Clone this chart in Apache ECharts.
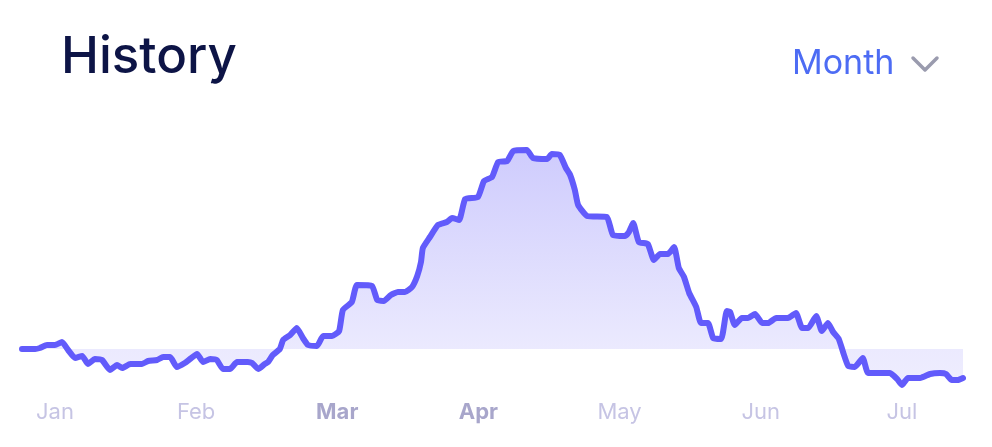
<!DOCTYPE html>
<html><head><meta charset="utf-8">
<script src="https://cdn.jsdelivr.net/npm/echarts@6/dist/echarts.min.js"></script>
<style>html,body{margin:0;padding:0;background:#fff}#c{width:992px;height:447px}</style>
</head><body><div id="c"></div>
<script>
// x: day index (0..200), y: value relative to baseline 0
const days = [0,2.8,3.8,5.3,7.0,8.5,9.8,11.3,12.8,14.0,15.5,17.0,18.7,20.2,21.3,23.0,25.5,26.8,28.7,30.0,31.5,32.9,34.6,35.7,37.2,38.5,40.0,41.4,42.7,44.2,45.7,48.0,48.9,50.2,51.6,52.3,53.3,54.8,55.5,57.0,58.4,59.7,60.8,62.7,64.0,65.9,67.4,68.2,70.1,71.2,74.4,75.5,76.9,78.4,79.9,81.4,82.9,84.0,84.8,85.2,86.7,88.4,90.3,91.4,92.9,94.2,96.9,98.2,99.9,101.2,103.1,104.4,107.3,108.6,111.6,112.6,114.3,115.6,116.5,117.5,118.2,120.1,124.3,125.6,128.2,129.0,129.9,131.1,133.0,134.3,135.6,137.3,138.6,139.6,140.7,141.8,143.3,144.3,145.8,146.9,148.6,149.8,150.5,151.5,153.0,154.3,155.8,157.3,158.6,160.3,162.8,164.5,165.8,167.1,168.8,170.0,171.3,172.4,173.6,174.5,175.6,177.0,178.7,179.8,181.7,184.5,186.0,187.0,188.3,190.9,193.0,195.1,196.4,197.6,198.9,200.0];
const values = [0,0,0.5,2,2,3.5,-0.5,-4.5,-3.5,-7.5,-5,-5.5,-10.5,-8,-9.5,-7.5,-7.5,-6,-5.5,-4,-4,-9,-7,-5,-2.5,-6.5,-5,-5.5,-10,-10,-6.5,-6.5,-7,-10,-7.5,-6.5,-3,0,4.5,7,10.5,5.5,2,1.5,6.5,6.5,9,19.5,23.5,32,31.5,24.5,24,27,28.5,28.5,31,36.5,43.5,50.5,56,62,63.5,65.5,64.5,75,76,84,86,93.5,94,99,99.5,95.5,95,97.5,97,90.5,87,79.5,72,66.5,66,57,56.5,58.5,63,53.5,52.5,44.5,47.5,47.5,51,40.5,36,28,21,13,13,5.5,5,19,18.5,12,15.5,15.5,17.5,13,13,15.5,15.5,18,10.5,10.5,16.5,9,13,8.5,5,-1.5,-8.5,-9,-4.5,-12,-12,-12,-15,-18,-14.5,-14.5,-12.5,-12,-12.5,-15.5,-15.5,-14.5];
const monthLabels = ['Jan','Feb','Mar','Apr','May','Jun','Jul'];
const monthDays = [7,37,67,97,127,157,187];
const highlightedMonths = ['Mar','Apr'];
const titleText = 'History';
const periodText = 'Month';
const baselineValue = 0;

const FONT = 'Inter, "Noto Sans", sans-serif';
const chart = echarts.init(document.getElementById('c'), null, {renderer:'canvas'});
chart.setOption({
  animation: false,
  grid: {left: 22, right: 29, top: 139, bottom: 58},
  xAxis: {
    type: 'value', min: 0, max: 200,
    axisLine: {show:false}, axisTick: {show:false}, splitLine: {show:false},
    axisLabel: {
      customValues: monthDays,
      margin: 12,
      formatter: function (v) {
        const i = monthDays.indexOf(v);
        if (i < 0) return '';
        const m = monthLabels[i];
        return highlightedMonths.indexOf(m) >= 0 ? '{b|' + m + '}' : '{n|' + m + '}';
      },
      rich: {
        n: {color: '#c6c4e4', fontSize: 22, fontFamily: FONT, fontWeight: 400},
        b: {color: '#a8a6cb', fontSize: 22, fontFamily: FONT, fontWeight: 700}
      }
    }
  },
  yAxis: {type: 'value', min: -20, max: 105, show: false, splitLine:{show:false}},
  series: [{
    type: 'line',
    data: days.map((d, i) => [d, values[i]]),
    showSymbol: false,
    smooth: 0.15,
    lineStyle: {width: 6, color: '#625bfb', join: 'round', cap: 'round'},
    areaStyle: {
      origin: baselineValue,
      color: new echarts.graphic.LinearGradient(0, 150, 0, 390, [
        {offset: 0, color: '#b9b5fb'},
        {offset: 0.83, color: '#e2e0fd'},
        {offset: 1, color: '#e7e5fd'}
      ], true)
    }
  }],
  graphic: [
    {type: 'text', x: 61, y: 58, style: {text: titleText, font: '500 51px ' + FONT, fill: '#0d1446', verticalAlign: 'middle', align: 'left'}},
    {type: 'text', x: 792, y: 64, style: {text: periodText, font: '400 34px ' + FONT, fill: '#4d6cf4', verticalAlign: 'middle', align: 'left'}},
    {type: 'polyline', shape: {points: [[913,58],[925,70],[937,58]]}, style: {stroke: '#9a9bae', lineWidth: 3.5, fill: null, lineCap: 'round', lineJoin: 'round'}}
  ]
});
</script>
</body></html>
